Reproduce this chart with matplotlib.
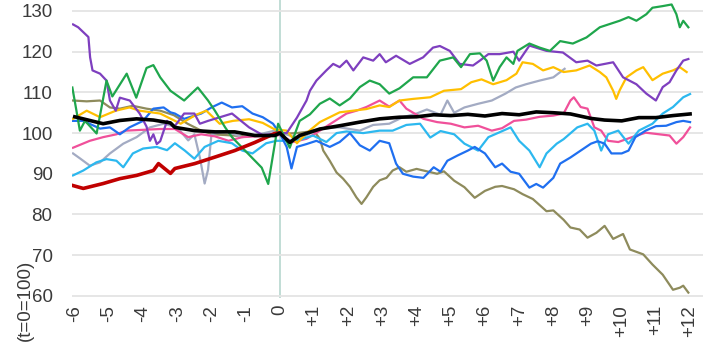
import matplotlib.pyplot as plt

plt.rcParams["font.family"] = ["Liberation Sans", "DejaVu Sans"]

# years relative to t=0, index values (t=0=100)
tick_years = list(range(-6, 13))
tick_labels = [str(t) if t <= 0 else "+" + str(t) for t in tick_years]

olive_t = [-6.05, -5.65, -5.26, -4.97, -4.68, -4.3, -3.9, -3.5, -3.1, -2.7, -2.3, -1.96, -1.56, -1.0, -0.5, 0,
           0.5, 1.0, 1.17, 1.27, 1.46, 1.66, 1.85, 2.05, 2.24, 2.39, 2.53, 2.73, 2.92, 3.12, 3.3, 3.5, 3.7, 4.0,
           4.2, 4.6, 4.8, 5.1, 5.4, 5.7, 6.0, 6.3, 6.5, 6.85, 7.1, 7.4, 7.8, 8.0, 8.3, 8.5, 8.77, 9.0, 9.26, 9.5,
           9.75, 10.04, 10.24, 10.63, 10.9, 11.2, 11.5, 11.7, 11.8, 11.95]
olive_v = [108, 107.8, 108, 106.3, 106, 106.7, 106, 105.5, 104.4, 102.3, 100.6, 99.7, 99.5, 99.2, 99.5, 99.8,
           100, 100.5, 98.6, 95.7, 93.2, 90.3, 88.8, 86.8, 84.2, 82.6, 84.2, 86.8, 88.4, 89, 90.8, 91.6, 90.5, 91.2,
           90.8, 90, 90.6, 88.3, 86.7, 84.1, 85.8, 86.8, 87, 86.2, 85, 83.8, 80.8, 81, 78.7, 76.8, 76.3, 74.3, 75.5,
           77.2, 74, 75.2, 71.4, 70.2, 67.7, 65.2, 61.5, 62, 62.5, 60.8]

gray_t = [-6.05, -5.85, -5.56, -5.26, -4.97, -4.58, -4.19, -3.8, -3.4, -3.0, -2.68, -2.5, -2.34, -2.2, -2.1, -2.0,
          -1.6, -1.1, -0.6, -0.15, 0.58, 1.17, 1.75, 2.34, 2.73, 3.2, 3.6, 4.0, 4.3, 4.7, 4.9, 5.1, 5.4, 5.8, 6.2,
          6.6, 6.9, 7.2, 7.6, 8.0, 8.33]
gray_v = [95, 93.8, 92, 92.8, 95, 97.4, 99, 101.4, 102.3, 101.4, 98.2, 99.7, 94, 87.6, 91, 99.7,
          100.5, 99, 99.7, 100.6, 98.6, 101.1, 101.4, 100.6, 102, 102.3, 103.9, 104.8, 105.8, 104.5, 108, 105, 106.3,
          107.2, 108, 109.7, 111.2, 112, 112.9, 113.7, 115.8]

pink_t = [-6.05, -5.56, -5.17, -4.78, -4.5, -4.0, -3.5, -3.07, -2.68, -2.3, -1.9, -1.5, -1.1, -0.5, 0, 0.39,
          0.78, 1.17, 1.56, 1.95, 2.24, 2.53, 2.92, 3.2, 3.5, 3.7, 3.9, 4.2, 4.6, 5.0, 5.4, 5.8, 6.2, 6.5, 6.85,
          7.2, 7.6, 8.0, 8.3, 8.5, 8.6, 8.8, 9.0, 9.2, 9.4, 9.6, 9.9, 10.3, 10.7, 11.1, 11.4, 11.6, 11.8, 12.0]
pink_v = [96.4, 98.1, 99, 99.7, 100.6, 100.8, 101, 101, 99, 99.7, 99.2, 98.1, 99, 99.3, 99.5, 97.8,
          98.6, 100.6, 102.7, 104.8, 105.5, 106.4, 108, 106.5, 108, 106, 105, 103.5, 102.7, 102.3, 101.4, 101.8,
          100.6, 101.2, 103, 103.3, 104, 104.3, 104.8, 108, 108.8, 106.4, 106, 101.4, 100.6, 98.1, 97.8, 99,
          100.1, 99.7, 99.4, 97.4, 99, 101.4]

cyan_t = [-6.05, -5.75, -5.37, -5.07, -4.78, -4.58, -4.3, -4.0, -3.6, -3.3, -3.07, -2.78, -2.5, -2.2, -1.8, -1.4,
          -1.1, -0.8, -0.4, -0.1, 0.2, 0.58, 0.97, 1.36, 1.66, 1.95, 2.44, 2.92, 3.3, 3.7, 4.1, 4.4, 4.7, 5.1,
          5.4, 5.8, 6.1, 6.4, 6.75, 7.0, 7.3, 7.6, 7.8, 8.1, 8.3, 8.7, 9.0, 9.2, 9.4, 9.6, 9.9, 10.2, 10.5, 10.9,
          11.2, 11.5, 11.8, 12.0]
cyan_v = [89.6, 90.8, 92.8, 93.6, 93.2, 91.6, 95, 96.2, 96.6, 95.8, 97.5, 95.7, 93.7, 96.6, 98.1, 97.5,
          95.7, 95, 97.5, 98.1, 98.1, 98.3, 99.4, 97.8, 100, 100.4, 100, 100.6, 100.6, 102, 102.3, 98.9, 100.5,
          99.7, 97.4, 95.7, 99, 100.1, 101.4, 98.1, 95.7, 91.6, 95, 97.4, 98.5, 101.4, 102.3, 100.6, 95.7, 99.7,
          100.6, 97.4, 100.6, 102.3, 104.8, 106.4, 108.8, 109.6]

blue_t = [-6.1, -5.75, -5.26, -4.97, -4.68, -4.4, -4.0, -3.7, -3.4, -3.2, -3.07, -2.8, -2.3, -2.0, -1.7, -1.4,
          -1.1, -0.8, -0.5, -0.2, 0, 0.2, 0.34, 0.5, 0.78, 1.07, 1.46, 1.75, 2.05, 2.34, 2.63, 2.92, 3.2, 3.4,
          3.6, 3.9, 4.2, 4.5, 4.7, 4.9, 5.2, 5.5, 5.7, 6.0, 6.3, 6.5, 6.75, 7.0, 7.3, 7.5, 7.7, 8.0, 8.2, 8.5,
          8.8, 9.1, 9.3, 9.5, 9.7, 10.0, 10.2, 10.4, 10.7, 11.0, 11.3, 11.6, 11.8, 12.0]
blue_v = [103, 103, 101.1, 101.4, 99.7, 101.4, 103, 106, 106.3, 105.1, 104.8, 103.5, 104.8, 106.3, 107.5, 106.3,
          106.6, 104.8, 103.9, 102.3, 99.9, 96.6, 91.3, 96.6, 97.3, 98.1, 96.6, 97.8, 100, 97, 95.7, 98.1, 97.5,
          92.5, 90, 89.3, 89, 91.6, 90.5, 93.2, 94.5, 95.7, 96.6, 95, 91.6, 92.5, 90.5, 90, 86.6, 87.5, 86.6, 89,
          92.5, 94, 95.7, 97.4, 98, 97.4, 95, 95, 95.7, 99, 100.6, 101.7, 101.8, 102.7, 103, 102.7]

yellow_t = [-6.05, -5.65, -5.26, -4.8, -4.4, -4.1, -3.5, -2.9, -2.45, -2.15, -1.76, -1.37, -0.9, -0.5, -0.15, 0.2,
            0.5, 0.78, 1.17, 1.75, 2.14, 2.53, 2.92, 3.2, 3.5, 3.9, 4.4, 4.8, 5.3, 5.6, 5.9, 6.24, 6.63, 6.92,
            7.1, 7.4, 7.7, 8.0, 8.3, 8.67, 9.06, 9.36, 9.55, 9.75, 9.84, 9.94, 10.14, 10.43, 10.63, 10.9, 11.2,
            11.5, 11.7, 11.9]
yellow_v = [103.5, 105.5, 103.9, 105.5, 106.3, 105.5, 104.8, 102.3, 104.5, 105.5, 102.3, 103, 103.4, 102.5, 100.9,
            100.6, 97.5, 100, 102.7, 105.1, 105.5, 105.9, 106.8, 106.4, 108, 108.4, 108.8, 110.4, 110.8, 112.5,
            113.2, 112, 113, 114.6, 117.4, 117, 115.4, 116.2, 115, 115.4, 116.6, 115, 113.7, 110.4, 108.4, 110.5,
            113.7, 115.4, 116.2, 113, 114.6, 115.4, 116.2, 115]

purple_t = [-6.05, -5.9, -5.7, -5.6, -5.55, -5.48, -5.26, -5.07, -4.97, -4.8, -4.68, -4.39, -4.1, -3.9, -3.8, -3.7,
            -3.6, -3.5, -3.3, -3.1, -2.8, -2.5, -2.34, -2.1, -1.4, -0.9, -0.5, 0, 0.2, 0.5, 0.78, 0.88, 1.07, 1.36,
            1.56, 1.75, 1.95, 2.15, 2.44, 2.73, 2.92, 3.1, 3.4, 3.8, 4.19, 4.48, 4.68, 4.97, 5.26, 5.65, 5.85, 6.1,
            6.43, 6.83, 7.0, 7.3, 7.8, 8.28, 8.67, 9.0, 9.26, 9.75, 10.04, 10.43, 10.72, 11.0, 11.2, 11.4, 11.6,
            11.8, 11.95]
purple_v = [126.7, 126, 124.4, 123.6, 118.6, 115.4, 114.6, 112.9, 108, 105.5, 108.7, 108, 104.8, 101.6, 98.1, 99.7,
            97.3, 98, 103, 101.4, 104.8, 104.8, 102.3, 103, 104.8, 101.4, 99.5, 100, 100, 103.8, 108, 110.4, 112.9,
            115.4, 117, 116.2, 117.8, 115.4, 118.6, 117.8, 119.4, 117.4, 119, 117, 118.6, 121, 121.4, 120.2, 117,
            116.6, 117.8, 119.4, 119.4, 120, 117.8, 121.5, 120.2, 119.8, 117.4, 117.8, 116.6, 117.4, 113.7, 112,
            109.7, 108, 111.3, 112.5, 115.4, 117.8, 118.2]

green_t = [-6.07, -5.95, -5.85, -5.7, -5.36, -5.07, -4.9, -4.48, -4.2, -3.9, -3.7, -3.5, -3.2, -2.8, -2.4, -2.1,
           -1.9, -1.6, -1.4, -1.1, -0.53, -0.34, -0.05, 0.29, 0.58, 0.88, 1.17, 1.46, 1.75, 2.05, 2.34, 2.63, 2.92,
           3.2, 3.5, 3.9, 4.3, 4.68, 5.07, 5.3, 5.56, 5.85, 6.05, 6.24, 6.43, 6.63, 6.83, 6.95, 7.3, 7.6, 7.9, 8.2,
           8.57, 8.97, 9.36, 9.65, 9.94, 10.2, 10.43, 10.72, 10.9, 11.2, 11.46, 11.6, 11.7, 11.8, 11.95]
green_v = [111.2, 105.5, 100.6, 103, 99.9, 112.9, 109, 114.6, 108.7, 116, 116.7, 113.7, 110.4, 108, 111.2, 108,
           105.5, 101.4, 99, 96.4, 91.5, 87.5, 102.3, 96.4, 103, 104.6, 107.2, 108.5, 106.8, 108.5, 111.3, 112.9,
           112, 109.7, 111, 113.7, 113.7, 117.8, 118.6, 116.2, 119.4, 119.6, 117.8, 112.9, 116.2, 118.6, 117, 120.2,
           122, 121, 120.2, 122.6, 122, 123.5, 126, 126.8, 127.6, 128.5, 127.6, 129.2, 130.8, 131.2, 131.6, 129.2,
           126, 127.6, 126]

red_t = [-6.05, -5.75, -5.17, -4.68, -4.19, -3.7, -3.55, -3.2, -3.07, -2.49, -1.9, -1.32, -0.73, -0.15, 0]
red_v = [87.1, 86.4, 87.6, 88.8, 89.6, 90.8, 92.5, 90.1, 91.3, 92.5, 94.1, 95.7, 97.7, 99.9, 100]

black_t = [-6, -5.56, -5.17, -4.68, -4.19, -3.7, -3.2, -3.07, -2.49, -1.9, -1.32, -0.73, -0.15, 0, 0.29, 0.58,
           1.17, 1.75, 2.34, 2.92, 3.5, 4.0, 4.5, 5.0, 5.5, 6.0, 6.5, 7.0, 7.5, 8.0, 8.5, 9.1, 9.5, 10.0, 10.5,
           11.0, 11.5, 12.0]
black_v = [104, 103.1, 102.3, 103.1, 103.5, 103.2, 102.5, 101.4, 100.6, 100.3, 100.3, 99.4, 99.4, 100, 97.7, 99.4,
           101, 101.8, 102.7, 103.5, 103.9, 104, 104.5, 104.3, 104.6, 104.2, 104.8, 104.5, 105.2, 105.0, 104.7,
           103.6, 103.2, 103.0, 103.8, 103.8, 104.3, 104.7]

series = [
    (olive_t, olive_v, "#8e8b5c", 1.6),
    (gray_t, gray_v, "#a3abc3", 1.6),
    (pink_t, pink_v, "#f0509a", 1.6),
    (cyan_t, cyan_v, "#2cb8ef", 1.6),
    (blue_t, blue_v, "#1f6ff0", 1.6),
    (yellow_t, yellow_v, "#ffbf00", 1.6),
    (purple_t, purple_v, "#7e3fbf", 1.6),
    (green_t, green_v, "#1fa64c", 1.6),
    (red_t, red_v, "#c00000", 2.6),
    (black_t, black_v, "#000000", 2.6),
]

fig = plt.figure(figsize=(7.2, 3.44), dpi=100)
ax = fig.add_axes([0.100, 0.134, 0.876, 0.866])

for t, v, color, lw in series:
    ax.plot(t, v, color=color, linewidth=lw, solid_joinstyle="round")

ax.axvline(0, color="#bcdad2", linewidth=1.3, zorder=0.5)

ax.set_xlim(-6.08, 12.37)
ax.set_ylim(59.5, 132.7)
ax.set_yticks(range(60, 131, 10))
ax.set_xticks(tick_years)
ax.set_xticklabels(tick_labels, rotation=90)
ax.grid(axis="y", color="#e4e4e4", linewidth=1.3)
ax.set_axisbelow(True)
for s in ax.spines.values():
    s.set_visible(False)
ax.tick_params(axis="y", length=0, pad=14, labelsize=13.5, labelcolor="#3a3a3a")
ax.tick_params(axis="x", length=0, pad=5, labelsize=13.5, labelcolor="#3a3a3a")

fig.text(25 / 720, 1 - 300 / 344, "(t=0=100)", rotation=90, ha="center", va="center",
         fontsize=13.5, color="#3a3a3a")

fig.savefig("out.png", dpi=100)
